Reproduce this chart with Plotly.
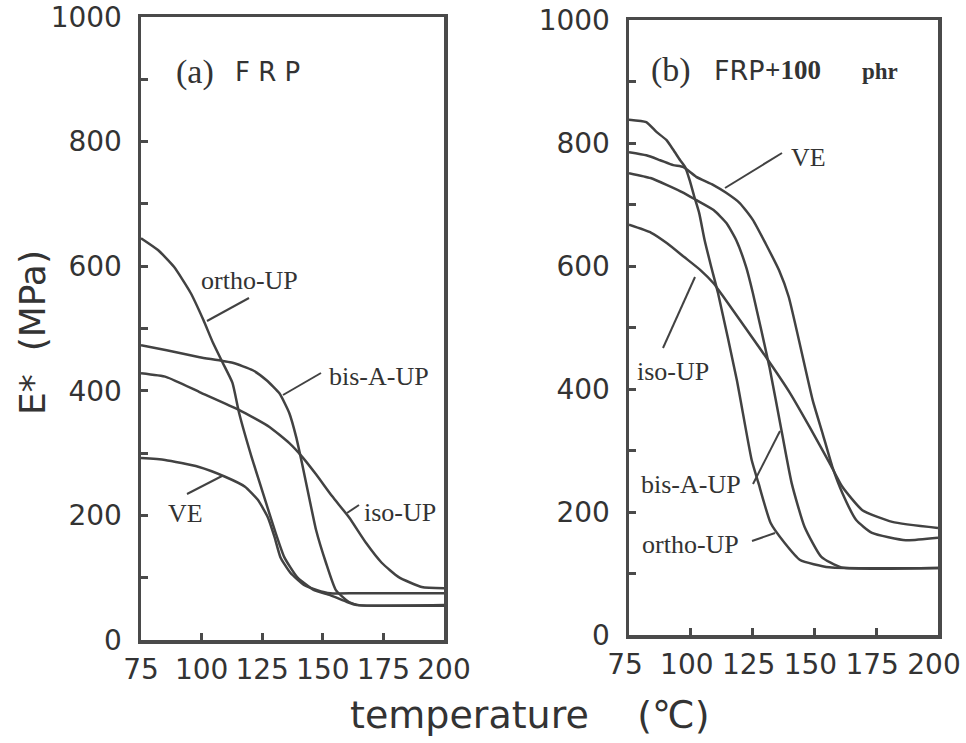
import plotly.graph_objects as go

W, H = 966, 743

# ---------------- data ----------------
# Panel (a) FRP
a_ortho_T = [75, 82.0, 88.6, 95.5, 100.7, 104.7, 108.7, 112.7, 115.5, 120.6, 126.2, 130.1, 134.1, 139.4, 146.4, 153.0, 160.0, 164.0, 175, 200]
a_ortho_E = [645, 626, 599, 557, 514, 477, 445, 413, 364, 294, 225, 177, 133, 101, 80, 72, 61, 56, 55, 55]
a_bisA_T = [75, 85.6, 99.2, 112.8, 121.1, 126.8, 132.1, 136.2, 139.0, 141.4, 144.3, 147.2, 151.3, 155.4, 160.8, 164.9, 175, 200]
a_bisA_E = [473, 465, 454, 445, 433, 417, 396, 364, 326, 284, 230, 177, 124, 80, 61, 56, 55, 56]
a_iso_T = [75, 85.5, 99.1, 115.6, 128.0, 136.2, 141.5, 147.2, 153.8, 160.8, 167.8, 174.3, 181.3, 190.8, 200]
a_iso_E = [428, 422, 398, 369, 342, 316, 294, 266, 231, 197, 156, 124, 101, 85, 83]
a_ve_T = [75, 84.9, 98.6, 109.7, 117.9, 123.2, 127.3, 130.1, 132.5, 136.6, 142.4, 147.7, 153.1, 164, 200]
a_ve_E = [292, 289, 278, 262, 246, 225, 197, 165, 133, 108, 88, 80, 75, 75, 75]

# Panel (b) FRP+100 phr
b_ortho_T = [75, 82.0, 86.1, 90.1, 92.9, 95.7, 97.7, 99.5, 101.4, 103.4, 105.6, 108.3, 111.0, 118.6, 124.6, 127.3, 132.3, 137.9, 144.2, 156, 200]
b_ortho_E = [838, 834, 818, 805, 789, 772, 761, 740, 713, 686, 642, 598, 556, 415, 285, 248, 182, 150, 122, 110, 109]
b_ve_T = [75, 82, 87.6, 92.9, 97.0, 102.2, 109.0, 114.3, 119.9, 125.1, 130.2, 135.7, 139.6, 149.3, 153.3, 157.3, 161.3, 166.9, 173.3, 187, 200]
b_ve_E = [785, 780, 772, 764, 761, 745, 732, 719, 702, 675, 637, 593, 550, 382, 328, 273, 231, 187, 166, 154, 158]
b_bisA_T = [75, 83.7, 90.2, 97.1, 102.3, 109.2, 114.4, 118.4, 122.4, 125.1, 131.8, 136.9, 140.8, 146.0, 152.8, 160.9, 200]
b_bisA_E = [751, 743, 732, 719, 707, 691, 670, 642, 598, 556, 436, 328, 247, 176, 127, 110, 109]
b_iso_T = [75, 84, 90.4, 97.2, 104.0, 109.2, 113.2, 130.4, 140.2, 148.1, 156.1, 161.3, 169.4, 181.5, 200]
b_iso_E = [667, 654, 637, 615, 593, 572, 550, 452, 393, 338, 280, 241, 203, 184, 174]

x_ticks = [75, 100, 125, 150, 175, 200]
y_ticks = [0, 200, 400, 600, 800, 1000]
y_minor = [100, 300, 500, 700, 900]

# ---------------- figure ----------------
LINE = "#424242"
AX = "#4a4a4a"
TXT = "#333333"


def px(x, y):
    """page pixel -> paper fraction"""
    return x / W, 1 - y / H


def dom_x(x0, x1):
    return [px(x0, 0)[0], px(x1, 0)[0]]


def dom_y(ybot, ytop):
    return [px(0, ybot)[1], px(0, ytop)[1]]


fig = go.Figure()
panels = [
    ("x", "y", [(a_ortho_T, a_ortho_E), (a_bisA_T, a_bisA_E), (a_iso_T, a_iso_E), (a_ve_T, a_ve_E)]),
    ("x2", "y2", [(b_ortho_T, b_ortho_E), (b_ve_T, b_ve_E), (b_bisA_T, b_bisA_E), (b_iso_T, b_iso_E)]),
]
for xa, ya, series in panels:
    for T, E in series:
        fig.add_trace(go.Scatter(x=T, y=E, xaxis=xa, yaxis=ya, mode="lines",
                                 line=dict(color=LINE, width=2.5, shape="spline", smoothing=0.5),
                                 showlegend=False, hoverinfo="skip"))

tickfont = dict(family="DejaVu Sans", size=28, color=TXT)


def xax(domain, anchor, shift=0):
    return dict(domain=domain, anchor=anchor, range=[75, 200], tickvals=x_ticks,
                ticks="inside", ticklen=7, tickwidth=3, tickcolor=AX, automargin=False,
                showline=True, linewidth=3.5, linecolor=AX, mirror=True,
                showgrid=False, zeroline=False, tickfont=tickfont, ticklabelstandoff=2,
                ticklabeloverflow="allow", ticklabelshift=shift)


def yax(domain, anchor):
    return dict(domain=domain, anchor=anchor, range=[0, 1000], tickvals=y_ticks,
                ticks="inside", ticklen=7, tickwidth=3, tickcolor=AX, automargin=False,
                minor=dict(tickvals=y_minor, ticks="inside", ticklen=7, tickwidth=3, tickcolor=AX),
                showline=True, linewidth=3.5, linecolor=AX, mirror=True,
                showgrid=False, zeroline=False, tickfont=tickfont, ticklabelstandoff=10,
                ticklabeloverflow="allow")


fig.update_layout(
    width=W, height=H,
    margin=dict(l=0, r=0, t=0, b=0, autoexpand=False),
    paper_bgcolor="white", plot_bgcolor="white",
    xaxis=xax(dom_x(141, 444), "y"),
    yaxis=yax(dom_y(640, 17), "x"),
    xaxis2=xax(dom_x(629, 938), "y2", shift=-4),
    yaxis2=yax(dom_y(635, 20), "x2"),
)

serif = "Liberation Serif"
sans = "DejaVu Sans"


def ann(text, x, y, size, family=serif, xanchor="left", angle=0, color=TXT):
    X, Y = px(x, y)
    fig.add_annotation(text=text, x=X, y=Y, xref="paper", yref="paper", showarrow=False,
                       xanchor=xanchor, yanchor="middle", textangle=angle,
                       font=dict(family=family, size=size, color=color))


def seg(x0, y0, x1, y1):
    X0, Y0 = px(x0, y0)
    X1, Y1 = px(x1, y1)
    fig.add_shape(type="line", xref="paper", yref="paper", x0=X0, y0=Y0, x1=X1, y1=Y1,
                  line=dict(color=LINE, width=2))


# axis titles
ann("E*\u00a0\u00a0(MPa)", 32, 333, 36, family=sans, xanchor="center", angle=-90)
ann("temperature\u00a0\u00a0\u00a0\u00a0(\u2103)", 530, 715, 38, family=sans, xanchor="center")

# panel titles
ann("(a)", 174, 72, 34)
ann("F R P", 233, 72, 26, family=sans)
ann("(b)", 649, 70, 34)
ann("FRP", 712, 70, 27, family=sans)
ann("<b>+100</b>", 763, 70, 27)
ann("<b>phr</b>", 860, 72, 23)

# curve labels panel (a)
ann("ortho-UP", 199, 280, 26)
seg(249, 298, 207, 321)
ann("bis-A-UP", 327, 376, 26)
seg(321, 373, 283, 395)
ann("iso-UP", 362, 512, 26)
seg(359, 505, 347, 513)
ann("VE", 166, 513, 26)
seg(187, 494, 222, 476)

# curve labels panel (b)
ann("VE", 789, 157, 26)
seg(782, 153, 725, 188)
ann("iso-UP", 635, 372, 26)
seg(695, 277, 663, 348)
ann("bis-A-UP", 639, 484, 26)
seg(753, 484, 780, 431)
ann("ortho-UP", 640, 544, 26)
seg(752, 541, 775, 533)

fig.write_html("out.html", config={"displayModeBar": False, "staticPlot": True},
               post_script="document.body.style.margin='0';document.body.style.overflow='hidden';")
